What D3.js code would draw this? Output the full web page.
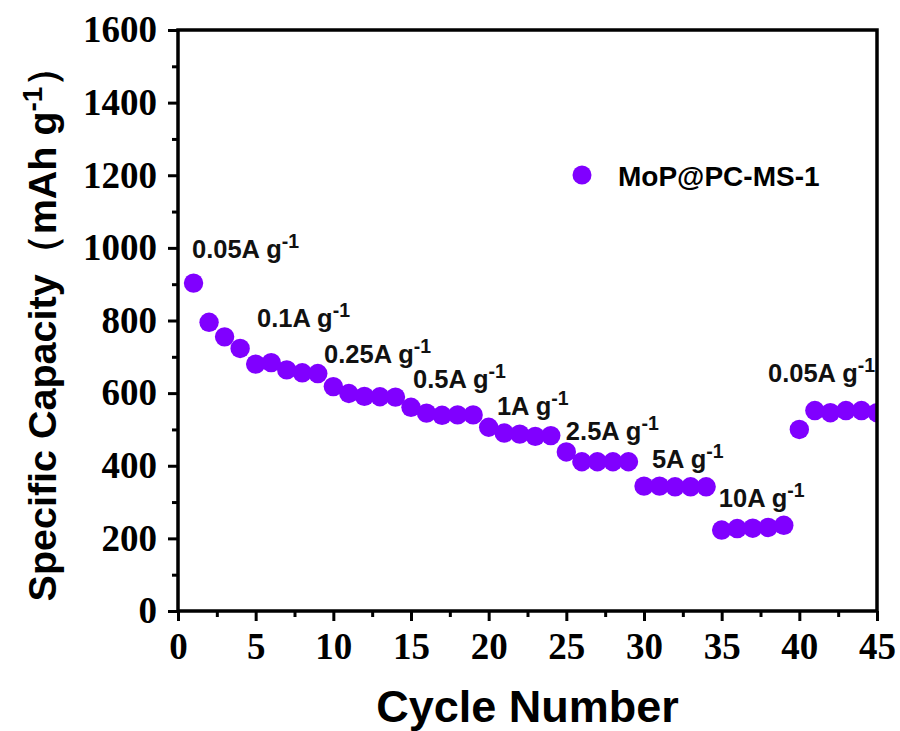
<!DOCTYPE html>
<html><head><meta charset="utf-8">
<script src="https://cdn.jsdelivr.net/npm/d3@7"></script>
<style>body{margin:0;background:#fff}svg{display:block}</style>
</head><body><svg id="c" width="900" height="731"></svg>
<script>
const cycles = d3.range(1, 46);
const capacity = [903,795,755,723,680,684,664,656,654,618,
  599,591,590,589,561,545,539,540,540,506,
  490,487,481,483,438,411,411,411,411,344,
  344,342,342,342,223,227,228,230,236,500,
  552,546,552,552,546];
const seriesName = "MoP@PC-MS-1";
const rateLabels = ["0.05A g","0.1A g","0.25A g","0.5A g","1A g","2.5A g","5A g","10A g","0.05A g"];
const rateAnchorCycle = [0.9,5.09,9.4,15.13,20.53,24.97,30.51,34.82,37.98];
const rateAnchorValue = [972,782,683,614,540,471,394,286,631];
const xTicks = d3.range(0, 46, 5);
const yTicks = d3.range(0, 1601, 200);

const svg = d3.select("#c");
const L = 178, R = 877, T = 30, B = 611;
const x = d3.scaleLinear().domain([0,45]).range([L,R]);
const y = d3.scaleLinear().domain([0,1600]).range([B,T]);
const color = "#8000ff";

svg.append("clipPath").attr("id","clip").append("rect")
  .attr("x",L).attr("y",T).attr("width",R-L).attr("height",B-T);

// points
svg.append("g").attr("clip-path","url(#clip)")
  .selectAll("circle").data(cycles).join("circle")
  .attr("cx", d => x(d)).attr("cy", (d,i) => y(capacity[i]))
  .attr("r", 9.7).attr("fill", color);

// axes
const serif = "'Liberation Serif','Times New Roman',serif";
const sans = "'Liberation Sans',Arial,sans-serif";
const xAx = svg.append("g").attr("transform",`translate(0,${B})`)
  .call(d3.axisBottom(x).tickValues(xTicks).tickSize(10).tickPadding(12).tickFormat(d3.format("d")));
const xMinor = svg.append("g").attr("transform",`translate(0,${B})`)
  .call(d3.axisBottom(x).tickValues(d3.range(2.5,45,5)).tickSize(6).tickFormat(""));
const yAx = svg.append("g").attr("transform",`translate(${L},0)`)
  .call(d3.axisLeft(y).tickValues(yTicks).tickSize(10).tickPadding(11).tickFormat(d3.format("d")));
const yMinor = svg.append("g").attr("transform",`translate(${L},0)`)
  .call(d3.axisLeft(y).tickValues(d3.range(100,1600,200)).tickSize(6).tickFormat(""));
[xAx,xMinor,yAx,yMinor].forEach(g=>{
  g.select(".domain").remove();
  g.selectAll("line").attr("stroke","#000").attr("stroke-width",3);
  g.selectAll("text").attr("fill","#000").attr("font-family",serif)
    .attr("font-weight","bold").attr("font-size",37);
});

// frame
svg.append("rect").attr("x",L).attr("y",T).attr("width",R-L).attr("height",B-T)
  .attr("fill","none").attr("stroke","#000").attr("stroke-width",3.5);

// axis titles
svg.append("text").attr("x",(L+R)/2).attr("y",722).attr("text-anchor","middle")
  .attr("font-family",sans).attr("font-weight","bold").attr("font-size",45)
  .text("Cycle Number");
const yt = svg.append("text").attr("transform","translate(56,324) rotate(-90)")
  .attr("text-anchor","middle").attr("font-family",sans).attr("font-weight","bold").attr("font-size",39.5);
yt.append("tspan").text("Specific Capacity（mAh g");
yt.append("tspan").attr("dy",-14).attr("font-size",28).text("-1");
yt.append("tspan").attr("dy",14).text("）");

// rate annotations
rateLabels.forEach((t,i)=>{
  const tx = svg.append("text").attr("x",x(rateAnchorCycle[i])).attr("y",y(rateAnchorValue[i]))
    .attr("font-family",sans).attr("font-weight","bold").attr("font-size",25.5).attr("fill","#111");
  tx.append("tspan").text(t);
  tx.append("tspan").attr("dy",-10).attr("font-size",19.5).text("-1");
});

// legend
svg.append("circle").attr("cx",582).attr("cy",175).attr("r",9.5).attr("fill",color);
svg.append("text").attr("x",618).attr("y",186).attr("font-family",sans).attr("font-weight","bold")
  .attr("font-size",28).text(seriesName);
</script></body></html>
